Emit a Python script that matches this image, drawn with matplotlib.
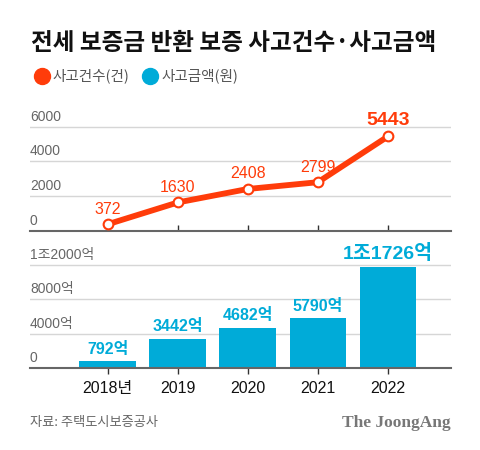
import matplotlib
matplotlib.use('Agg')
import matplotlib.pyplot as plt
from matplotlib.lines import Line2D
import numpy as np

plt.rcParams['font.family'] = ['Liberation Sans', 'Noto Sans CJK KR']

# data
years = ['2018년', '2019', '2020', '2021', '2022']
cases = [372, 1630, 2408, 2799, 5443]
case_labels = ['372', '1630', '2408', '2799', '5443']
amounts = [792, 3442, 4682, 5790, 11726]   # 억원
amount_labels = ['792억', '3442억', '4682억', '5790억', '1조1726억']
case_ticks = [0, 2000, 4000, 6000]
case_ticklabels = ['0', '2000', '4000', '6000']
amount_ticks = [0, 4000, 8000, 12000]
amount_ticklabels = ['0', '4000억', '8000억', '1조2000억']

red = '#ff3c0a'
blue = '#00abd8'
grid = '#d6d6d6'
axis_gray = '#666666'
text_gray = '#666666'

fig = plt.figure(figsize=(4.8, 4.5), dpi=100)
x = np.arange(len(years))
xlim = (-1.11, 4.90)

# title + legend
fig.text(0.064, 0.904, '전세 보증금 반환 보증 사고건수·사고금액', fontsize=17, fontweight=900,
         family=['Noto Sans CJK KR'], va='center', ha='left', color='#111111')
fig.add_artist(Line2D([42/480], [1-76/450], marker='o', markersize=11.5, color=red,
                      transform=fig.transFigure, linestyle='none'))
fig.text(52/480, 1-76/450, '사고건수(건)', fontsize=10.5, family=['Noto Sans CJK KR'],
         va='center', ha='left', color='#555555')
fig.add_artist(Line2D([150/480], [1-76/450], marker='o', markersize=11.5, color=blue,
                      transform=fig.transFigure, linestyle='none'))
fig.text(161/480, 1-76/450, '사고금액(원)', fontsize=10.5, family=['Noto Sans CJK KR'],
         va='center', ha='left', color='#555555')

# top: line chart of cases
ax1 = fig.add_axes([30/480, 1-230.7/450, 421/480, 121.3/450])
ax1.set_xlim(*xlim)
ax1.set_ylim(0, 7000)
for t, lab in zip(case_ticks, case_ticklabels):
    if t > 0:
        ax1.axhline(t, color=grid, lw=1, zorder=0)
    ax1.text(xlim[0], t + 180, lab, fontsize=10, color=text_gray, ha='left', va='bottom')
ax1.plot(x, cases, color=red, lw=4.2, solid_capstyle='round', zorder=3,
         marker='o', markersize=7, markerfacecolor='white', markeredgecolor=red,
         markeredgewidth=1.5, clip_on=False)
for i, (v, lab) in enumerate(zip(cases, case_labels)):
    last = i == len(cases) - 1
    ax1.annotate(lab, (x[i], v), xytext=(0, 5.5), textcoords='offset points',
                 ha='center', va='bottom', color=red,
                 fontsize=14 if last else 11.5, fontweight='bold' if last else 'normal')
for s in ['top', 'right', 'left']:
    ax1.spines[s].set_visible(False)
ax1.spines['bottom'].set_color(axis_gray)
ax1.spines['bottom'].set_linewidth(1.5)
ax1.set_yticks([])
ax1.set_xticks(x)
ax1.tick_params(axis='x', direction='in', length=4, width=1, color='#333333', labelbottom=False)

# bottom: bar chart of amounts
ax2 = fig.add_axes([30/480, 1-368.3/450, 421/480, 120.5/450])
ax2.set_xlim(*xlim)
ax2.set_ylim(0, 14000)
for t, lab in zip(amount_ticks, amount_ticklabels):
    if t > 0:
        ax2.axhline(t, color=grid, lw=1, zorder=0)
    ax2.text(xlim[0], t + 360, lab, fontsize=10, color=text_gray, ha='left', va='bottom')
ax2.bar(x, amounts, width=0.81, color=blue, zorder=2)
for i, (v, lab) in enumerate(zip(amounts, amount_labels)):
    last = i == len(amounts) - 1
    ax2.annotate(lab, (x[i], v), xytext=(0, 3.5), textcoords='offset points',
                 ha='center', va='bottom', color=blue,
                 fontsize=14 if last else 11.5, fontweight='bold')
for s in ['top', 'right', 'left']:
    ax2.spines[s].set_visible(False)
ax2.spines['bottom'].set_color(axis_gray)
ax2.spines['bottom'].set_linewidth(1.5)
ax2.set_yticks([])
ax2.set_xticks(x)
ax2.set_xticklabels(years)
ax2.tick_params(axis='x', direction='out', length=4, width=1, color='#333333',
                labelsize=11.5, pad=5, labelcolor='#111111')

# footer
fig.text(30/480, 1-422.7/450, '자료: 주택도시보증공사', fontsize=9.5, family=['Noto Sans CJK KR'],
         color=text_gray, ha='left', va='center')
fig.text(451/480, 1-422.7/450, 'The JoongAng', fontsize=12.5, family=['Liberation Serif'],
         fontweight='bold', color='#777777', ha='right', va='center')

fig.savefig('out.png', dpi=100, facecolor='white')
